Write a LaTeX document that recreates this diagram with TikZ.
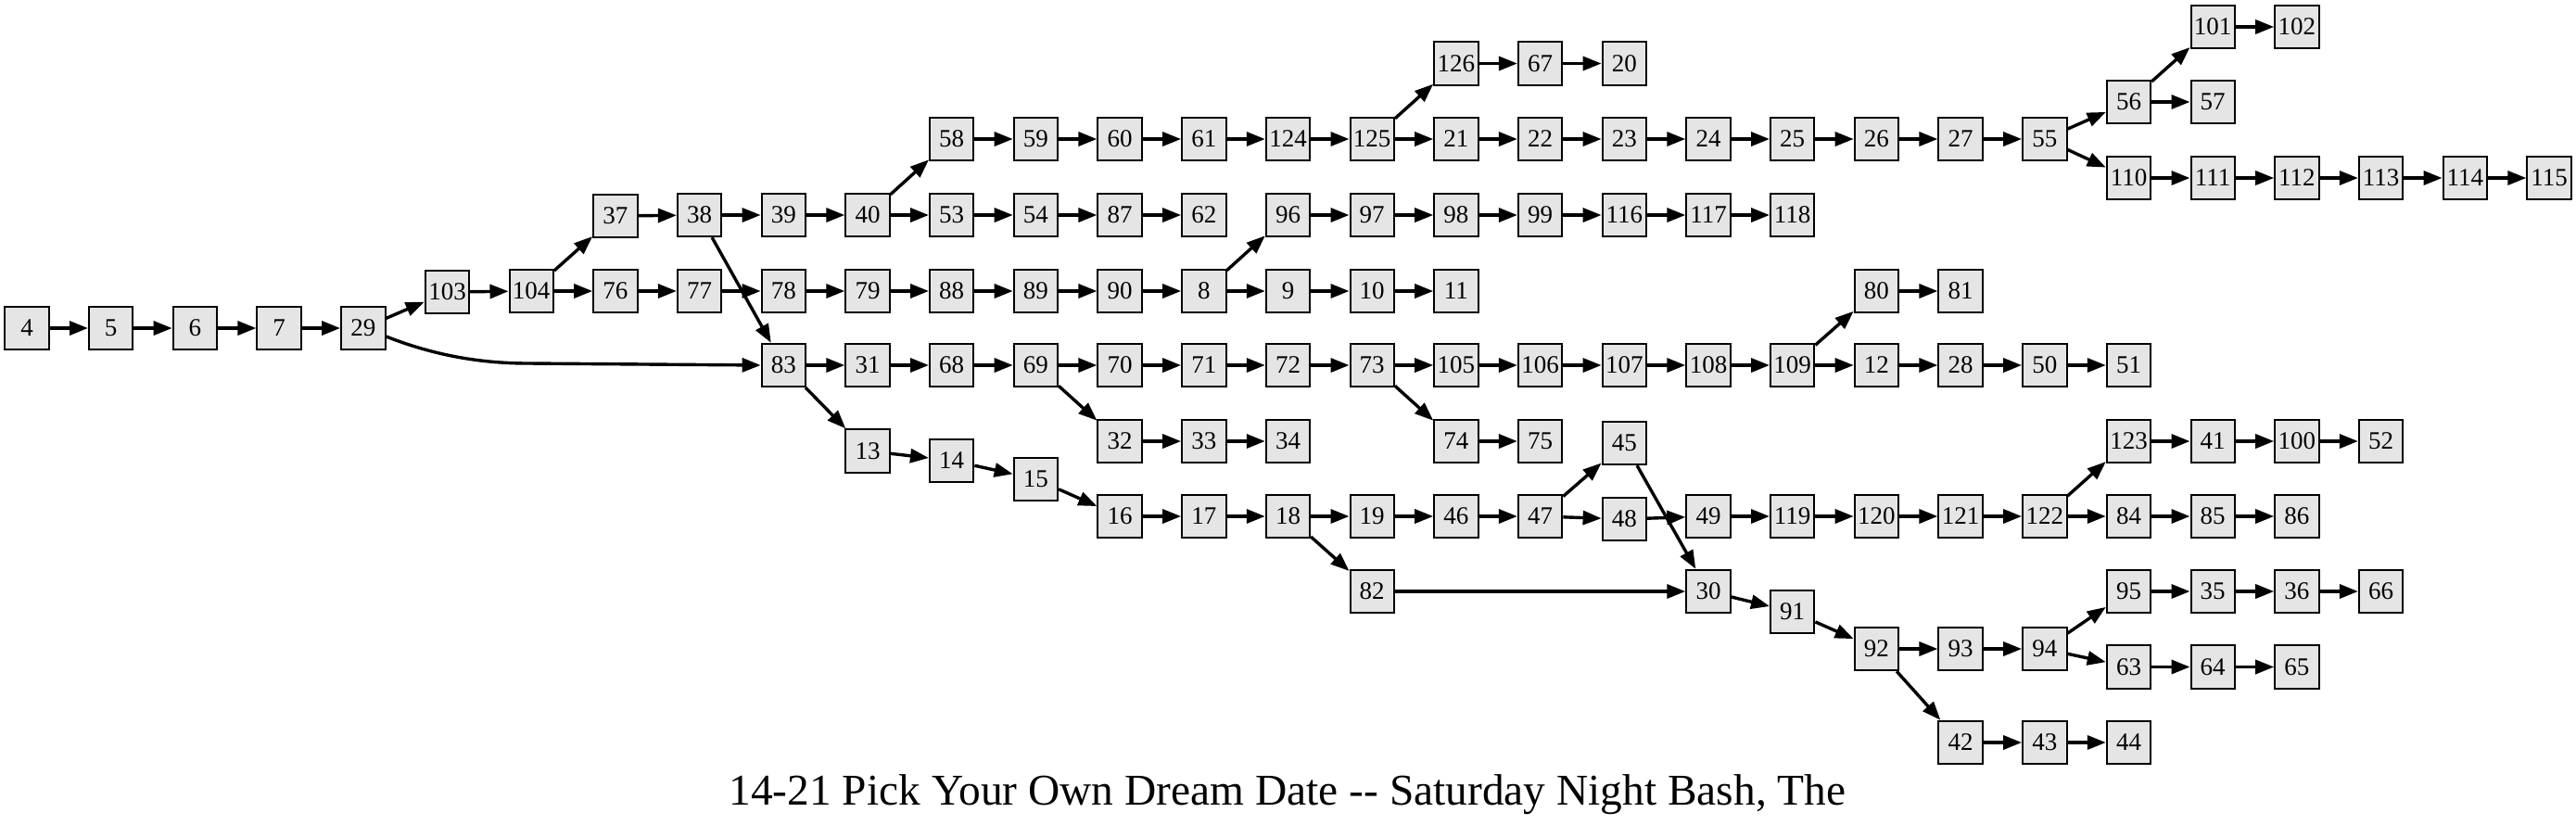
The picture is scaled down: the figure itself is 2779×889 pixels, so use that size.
\documentclass[tikz,border=0pt]{standalone}
\usepackage{fontspec}
\setmainfont{Liberation Serif}
\usetikzlibrary{arrows.meta}
\definecolor{boxfill}{HTML}{E5E5E5}
\newcommand{\mknode}[3]{\node[box] (n#1) at ({29+90.7*(#2)},#3) {#1};}
\begin{document}
\begin{tikzpicture}[x=0.5pt,y=-0.5pt,
  box/.style={draw=black, line width=1pt, fill=boxfill, minimum width=23.7pt, minimum height=23.2pt, inner sep=0pt, font=\fontsize{13.5}{14}\selectfont},
  edge/.style={-{Triangle[length=10pt,width=7.5pt]}, line width=1.7pt}]
\useasboundingbox (0,0) rectangle (2779,889);
\mknode{4}{0}{354}\mknode{5}{1}{354}\mknode{6}{2}{354}\mknode{7}{3}{354}\mknode{29}{4}{354}
\mknode{103}{5}{315}\mknode{104}{6}{314}\mknode{37}{7}{233}\mknode{76}{7}{314}
\mknode{38}{8}{232}\mknode{77}{8}{314}
\mknode{39}{9}{232}\mknode{78}{9}{314}\mknode{83}{9}{394}
\mknode{40}{10}{232}\mknode{79}{10}{314}\mknode{31}{10}{394}\mknode{13}{10}{486.5}
\mknode{58}{11}{150}\mknode{53}{11}{232}\mknode{88}{11}{314}\mknode{68}{11}{394}\mknode{14}{11}{496.8}
\mknode{59}{12}{150}\mknode{54}{12}{232}\mknode{89}{12}{314}\mknode{69}{12}{394}\mknode{15}{12}{516.8}
\mknode{60}{13}{150}\mknode{87}{13}{232}\mknode{90}{13}{314}\mknode{70}{13}{394}\mknode{32}{13}{476}\mknode{16}{13}{557}
\mknode{61}{14}{150}\mknode{62}{14}{232}\mknode{8}{14}{314}\mknode{71}{14}{394}\mknode{33}{14}{476}\mknode{17}{14}{557}
\mknode{124}{15}{150}\mknode{96}{15}{232}\mknode{9}{15}{314}\mknode{72}{15}{394}\mknode{34}{15}{476}\mknode{18}{15}{557}
\mknode{125}{16}{150}\mknode{97}{16}{232}\mknode{10}{16}{314}\mknode{73}{16}{394}\mknode{19}{16}{557}\mknode{82}{16}{638}
\mknode{126}{17}{68.5}\mknode{21}{17}{150}\mknode{98}{17}{232}\mknode{11}{17}{314}\mknode{105}{17}{394}\mknode{74}{17}{476}\mknode{46}{17}{557}
\mknode{67}{18}{68.5}\mknode{22}{18}{150}\mknode{99}{18}{232}\mknode{106}{18}{394}\mknode{75}{18}{476}\mknode{47}{18}{557}
\mknode{20}{19}{68.5}\mknode{23}{19}{150}\mknode{116}{19}{232}\mknode{107}{19}{394}\mknode{45}{19}{478}\mknode{48}{19}{560}
\mknode{24}{20}{150}\mknode{117}{20}{232}\mknode{108}{20}{394}\mknode{49}{20}{557}\mknode{30}{20}{638}
\mknode{25}{21}{150}\mknode{118}{21}{232}\mknode{109}{21}{394}\mknode{119}{21}{557}\mknode{91}{21}{660}
\mknode{26}{22}{150}\mknode{80}{22}{314}\mknode{12}{22}{394}\mknode{120}{22}{557}\mknode{92}{22}{700}
\mknode{27}{23}{150}\mknode{81}{23}{314}\mknode{28}{23}{394}\mknode{121}{23}{557}\mknode{93}{23}{700}\mknode{42}{23}{801}
\mknode{55}{24}{150}\mknode{50}{24}{394}\mknode{122}{24}{557}\mknode{94}{24}{700}\mknode{43}{24}{801}
\mknode{56}{25}{110}\mknode{110}{25}{192}\mknode{51}{25}{394}\mknode{123}{25}{476}\mknode{84}{25}{557}\mknode{95}{25}{638}\mknode{63}{25}{719.5}\mknode{44}{25}{801}
\mknode{101}{26}{29}\mknode{57}{26}{110}\mknode{111}{26}{192}\mknode{41}{26}{476}\mknode{85}{26}{557}\mknode{35}{26}{638}\mknode{64}{26}{719.5}
\mknode{102}{27}{29}\mknode{112}{27}{192}\mknode{100}{27}{476}\mknode{86}{27}{557}\mknode{36}{27}{638}\mknode{65}{27}{719.5}
\mknode{113}{28}{192}\mknode{52}{28}{476}\mknode{66}{28}{638}
\mknode{114}{29}{192}
\mknode{115}{30}{192}
\foreach \a/\b in {4/5,5/6,6/7,7/29,29/103,103/104,104/37,104/76,37/38,76/77,38/39,38/83,77/78,39/40,40/58,40/53,78/79,79/88,88/89,89/90,90/8,8/96,8/9,9/10,10/11,96/97,97/98,98/99,99/116,116/117,117/118,58/59,59/60,60/61,61/124,124/125,125/126,125/21,126/67,67/20,21/22,22/23,23/24,24/25,25/26,26/27,27/55,55/56,55/110,56/101,56/57,101/102,110/111,111/112,112/113,113/114,114/115,53/54,54/87,87/62,83/31,83/13,31/68,68/69,69/70,69/32,70/71,71/72,72/73,73/105,73/74,74/75,105/106,106/107,107/108,108/109,109/80,109/12,80/81,12/28,28/50,50/51,32/33,33/34,13/14,14/15,15/16,16/17,17/18,18/19,18/82,19/46,46/47,47/45,47/48,45/30,48/49,49/119,119/120,120/121,121/122,122/123,122/84,123/41,41/100,100/52,84/85,85/86,82/30,30/91,91/92,92/93,92/42,93/94,94/95,94/63,95/35,35/36,36/66,63/64,64/65,42/43,43/44}
  \draw[edge] (n\a) -- (n\b);
\coordinate (bend) at (570,392);
\draw[edge] (n29.-20) .. controls (470,384) and (520,392) .. (bend) -- (n83.west);
\node[anchor=base, font=\fontsize{23.7}{26}\selectfont] (title) at (1389,868) {14-21 Pick Your Own Dream Date -\kern0pt- Saturday Night Bash, The};
\end{tikzpicture}
\end{document}
